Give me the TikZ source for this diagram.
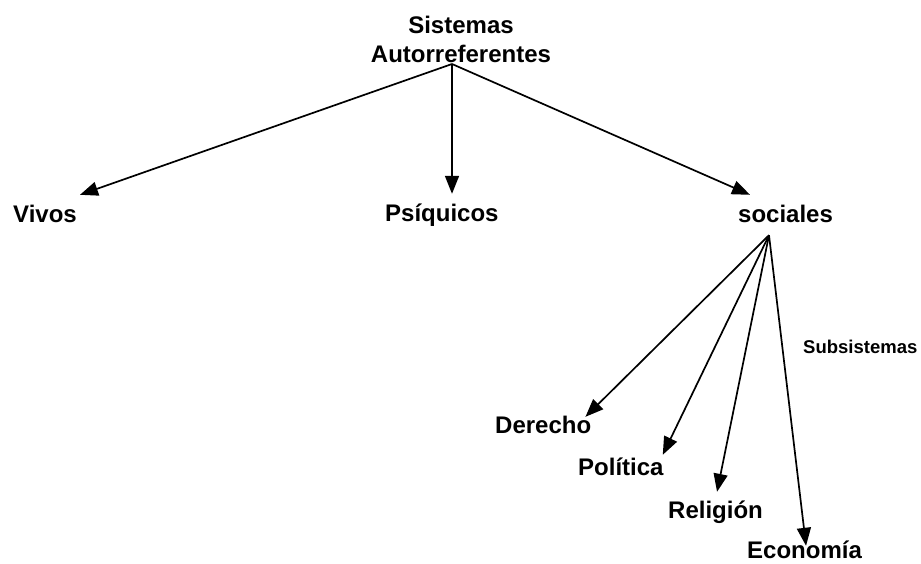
\documentclass[tikz,border=0pt]{standalone}
\usepackage{fontspec}
\setmainfont{Liberation Sans}
\usetikzlibrary{arrows.meta,calc}
\tikzset{
  lbl/.style={anchor=base west, inner sep=0pt, text height=17pt, text depth=0pt,
              font=\fontsize{24}{28}\selectfont\bfseries},
  sublbl/.style={anchor=base west, inner sep=0pt,
              font=\fontsize{18.5}{22}\selectfont\bfseries},
  conn/.style={line width=1.7pt, -{Triangle[length=18pt,width=14pt]}},
}
\begin{document}
\begin{tikzpicture}[x=1pt,y=-1pt]
\useasboundingbox[fill=white] (0,0) rectangle (921,563);
% labels
\node[lbl, anchor=base] (sis) at (461,33) {Sistemas};
\node[lbl, anchor=base] (auto) at (461,62) {Autorreferentes};
\node[lbl] (vivos) at (13,222) {Vivos};
\node[lbl] (psi) at (385,221) {Psíquicos};
\node[lbl] (soc) at (738,222) {sociales};
\node[sublbl] (sub) at (803,353) {Subsistemas};
\node[lbl] (der) at (495,433) {Derecho};
\node[lbl] (pol) at (578,475) {Política};
\node[lbl] (rel) at (668,518) {Religión};
\node[lbl] (eco) at (747,558) {Economía};
% junction points
\coordinate (top) at ($(auto.base)+(-9,2)$);
\coordinate (socb) at ($(soc.south west)+(31,13)$);
% connectors
\draw[conn] (top) -- ($(vivos.north east)+(3,-10)$);
\draw[conn] (top) -- ($(top |- psi.north)+(0,-10)$);
\draw[conn] (top) -- ($(soc.north west)+(12,-10)$);
\draw[conn] (socb) -- ($(der.north east)+(-6,1)$);
\draw[conn] (socb) -- ($(pol.north east)+(-1,-3)$);
\draw[conn] (socb) -- ($(rel.north)+(1.5,-9)$);
\draw[conn] (socb) -- ($(eco.north)+(1.5,5)$);
\end{tikzpicture}
\end{document}
